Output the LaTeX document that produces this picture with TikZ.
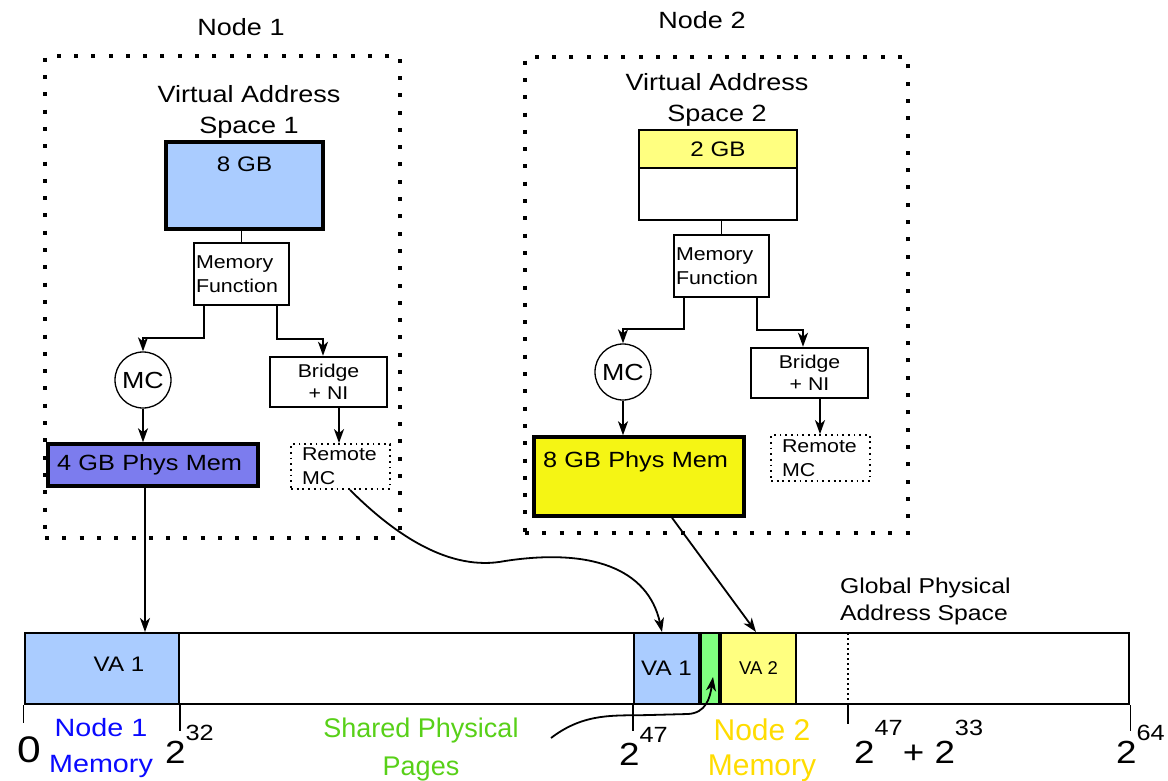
\documentclass[tikz,border=0pt]{standalone}
\usepackage{fontspec}
\setmainfont{Liberation Sans}[FakeStretch=1.15]
\newfontfamily\plainsf{Liberation Sans}
\usetikzlibrary{arrows.meta,positioning,calc}
\definecolor{vablue}{RGB}{170,204,255}
\definecolor{pmblue}{RGB}{124,124,238}
\definecolor{vayellow}{RGB}{255,255,128}
\definecolor{pmyellow}{RGB}{245,245,20}
\definecolor{shgreen}{RGB}{128,255,128}
\definecolor{nodeblue}{RGB}{10,10,255}
\definecolor{sharedgreen}{RGB}{88,208,24}
\definecolor{nodeyellow}{RGB}{255,220,0}
\newcommand\fsz[2]{\fontsize{#1}{#2}\selectfont}
\newcommand\pw[2][23pt]{2\raisebox{#1}{\fsz{22}{24}#2}}

\begin{document}
\begin{tikzpicture}[x=1pt, y=-1pt, every node/.style={inner sep=0pt}, >={Stealth[length=14pt,width=10pt,inset=4pt]}]
\tikzset{grp/.style={draw, line width=4pt, dash pattern=on 4pt off 13.3pt}}
\tikzset{vbox/.style={draw, line width=3.5pt}}
\tikzset{fbox/.style={draw, line width=1.3pt, text width=91pt, inner xsep=2pt, minimum height=62pt, align=left, font=\fsz{18.6}{24}}}
\tikzset{mcirc/.style={draw, circle, line width=1.3pt, minimum size=56pt, font=\fsz{23.3}{24}}}
\tikzset{brbox/.style={draw, line width=2.5pt, minimum width=117pt, minimum height=50pt, align=center, font=\fsz{18.5}{22}}}
\tikzset{rmbox/.style={draw, line width=1.8pt, dash pattern=on 1.8pt off 3.9pt, text width=77pt, inner xsep=11pt, align=left, font=\fsz{18.6}{24}}}
\tikzset{link/.style={line width=1.5pt}}
\tikzset{arr/.style={line width=1.8pt, ->}}
\tikzset{seg/.style={draw, line width=2pt, minimum height=71pt}}
\tikzset{tick/.style={line width=1.3pt}}
\useasboundingbox (0,0) rectangle (1168,780);

% node 1
\node[font=\fsz{23.5}{28}] (n1lab) at (241,27) {Node 1};
\node[grp, minimum width=355pt, minimum height=482pt] (n1) at (222.5,297) {};
\node[font=\fsz{23.5}{31}, align=center] (vas1) at (249,112) {Virtual Address\\Space 1};
\node[vbox, fill=vablue, text width=157pt, align=center, text height=29.5pt, text depth=57.5pt, font=\fsz{21}{24}] (va1) at (244.5,185.5) {8 GB};
\node[fbox] (mf1) at (241.5,274) {Memory\\Function};
\node[mcirc] (mc1) at (143,380) {MC};
\node[brbox] (br1) at (328.5,382) {Bridge\\+ NI};
\node[rmbox, minimum height=45pt] (rmc1) at (340.5,466.5) {Remote\\MC};
\node[vbox, fill=pmblue, text width=192pt, inner xsep=9pt, minimum height=42pt, align=left, font=\fsz{22}{24}] (pm1) at (153,465) {4 GB Phys Mem};
\draw[link] (mf1.north) -- (mf1.north |- va1.south);
\draw[arr] ([xshift=-37.5pt]mf1.south) -- ++(0,32) -| (mc1.north);
\draw[arr] ([xshift=35.5pt]mf1.south) -- ++(0,33) -| ([xshift=-5.5pt]br1.north);
\draw[arr] (mc1.south) -- (mc1.south |- pm1.north);
\draw[arr] ([xshift=10.5pt]br1.south) -- ([xshift=10.5pt]br1.south |- rmc1.north);

% node 2
\node[font=\fsz{23.5}{28}] (n2lab) at (702,20) {Node 2};
\node[grp, minimum width=383pt, minimum height=476pt] (n2) at (716.5,295) {};
\node[font=\fsz{23.5}{31}, align=center] (vas2) at (717,100) {Virtual Address\\Space 2};
\node[draw, line width=2.5pt, fill=white, minimum width=158pt, minimum height=90pt] (va2) at (718,175) {};
\node[draw, line width=2.5pt, fill=vayellow, minimum width=158pt, minimum height=38pt, font=\fsz{21}{24}] (va2top) at (718,149) {2 GB};
\node[fbox] (mf2) at (721.5,266) {Memory\\Function};
\node[mcirc] (mc2) at (623,372) {MC};
\node[brbox] (br2) at (809.5,373) {Bridge\\+ NI};
\node[rmbox, minimum height=46pt] (rmc2) at (820.5,458) {Remote\\MC};
\node[vbox, fill=pmyellow, text width=192pt, inner xsep=9pt, align=left, text height=30pt, text depth=49pt, font=\fsz{22}{24}] (pm2) at (639,476.5) {8 GB Phys Mem};
\draw[link] (mf2.north) -- (mf2.north |- va2.south);
\draw[arr] ([xshift=-37.5pt]mf2.south) -- ++(0,31) -| (mc2.north);
\draw[arr] ([xshift=35.5pt]mf2.south) -- ++(0,32) -| ([xshift=-6.5pt]br2.north);
\draw[arr] (mc2.south) -- (mc2.south |- pm2.north);
\draw[arr] ([xshift=10.5pt]br2.south) -- ([xshift=10.5pt]br2.south |- rmc2.north);

% global physical address space
\node[draw, line width=2.5pt, fill=white, minimum width=1104pt, minimum height=71pt] (bar) at (577,668.5) {};
\node[seg, fill=vablue, minimum width=154pt] (va1a) at (102,668.5) {};
\node[font=\fsz{21}{24}] (va1alab) at (119,664) {VA 1};
\node[seg, fill=vablue, minimum width=65pt, font=\fsz{21}{24}] (va1b) at (666.5,668.5) {VA 1};
\node[seg, fill=shgreen, minimum width=18.5pt] (shr) at (710,668.5) {};
\node[seg, fill=vayellow, minimum width=75pt, font=\plainsf\fsz{18.5}{20}] (va2b) at (758.5,668.5) {VA 2};
\coordinate (gcut) at (848,633);
\draw[line width=1.5pt, dash pattern=on 1.5pt off 3.5pt] (gcut) -- (gcut |- bar.south);
\draw[tick] (bar.south west) -- ++(0,18);
\draw[tick] (va1a.south east) -- ++(0,26);
\draw[tick] (va1b.south west) -- ++(0,26);
\draw[tick] (gcut |- bar.south) -- ++(0,19);
\draw[tick] (bar.south east) -- ++(0,26);
\node[font=\fsz{21.5}{27}, align=left, anchor=west] (gpas) at (840,601) {Global Physical\\Address Space};

\node[font=\fsz{37}{40}, anchor=base west] (zero) at (17,762) {0};
\node[font=\fsz{25}{35.5}, text=nodeblue, align=center] (mem1) at (101,748) {Node 1\\Memory};
\node[font=\fsz{32}{36}, anchor=base west] (p32) at (165,763) {\pw{32}};
\node[font=\plainsf\fsz{27}{38}, text=sharedgreen, align=center] (shlab) at (421,750) {Shared Physical\\Pages};
\node[font=\fsz{32}{36}, anchor=base west] (p47) at (619,765) {\pw{47}};
\node[font=\plainsf\fsz{30}{35}, text=nodeyellow, align=center] (mem2) at (762,750) {Node 2\\Memory};
\node[font=\fsz{32}{36}, anchor=base west] (p4733) at (854,763) {\pw[28pt]{47}+ \pw[28pt]{33}};
\node[font=\fsz{32}{36}, anchor=base west] (p64) at (1116,763) {\pw{64}};

% mappings into the global space
\coordinate (shsrc) at (551,738);
\draw[arr] ([xshift=-8pt]pm1.south) -- ([xshift=-8pt]pm1.south |- va1a.north);
\draw[arr] ([xshift=9.5pt]rmc1.south) .. controls (395,535) and (450,572) .. (505,561) .. controls (590,548) and (648,568) .. ([xshift=-4.5pt]va1b.north);
\draw[arr] ([xshift=33pt]pm2.south) -- ([xshift=-2.5pt]va2b.north);
\draw[arr] (shsrc) .. controls (585,712) and (615,716) .. (650,715) -- (688,714) .. controls (706,713) and (710,698) .. ([xshift=3pt,yshift=-8.5pt]shr.center);
\end{tikzpicture}
\end{document}
